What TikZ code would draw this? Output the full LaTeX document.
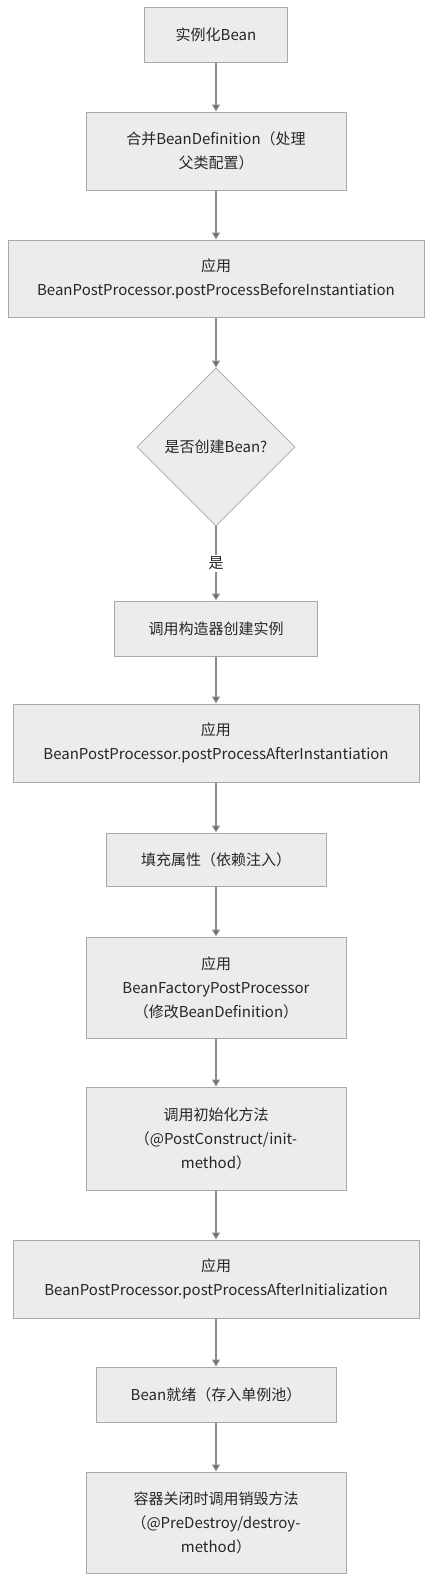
\documentclass[tikz,border=0pt]{standalone}
\usepackage{fontspec}
\usepackage{tikz}
\usetikzlibrary{shapes.geometric}
\usetikzlibrary{arrows.meta}
\usepackage{xcolor}

\newfontfamily\cjk{Noto Sans CJK SC}

\definecolor{boxfill}{HTML}{ECECEC}
\definecolor{boxline}{HTML}{A8A8A8}
\definecolor{linkline}{HTML}{8C8C8C}
\definecolor{tipgray}{HTML}{666666}

\tikzset{
  box/.style={draw=boxline, fill=boxfill, line width=1pt, align=center, inner sep=0pt,
    font=\cjk\fontsize{15}{24}\selectfont, text=black!85},
  decision/.style={diamond, draw=boxline, fill=boxfill, line width=0.8pt, inner sep=0pt, aspect=1,
    minimum width=158pt, minimum height=158pt, font=\cjk\fontsize{15}{24}\selectfont, text=black!85},
  link/.style={draw=linkline, line width=1.2pt, -{Triangle[length=7pt,width=8pt,fill=tipgray]}}
}

\begin{document}
\begin{tikzpicture}[x=1pt,y=-1pt]

\useasboundingbox (0,0) rectangle (432,1582);

\node[box, minimum width=143pt, minimum height=55pt] (inst) at (216,34.5) {实例化Bean};

\node[box, minimum width=260pt, minimum height=78pt] (merge) at (216,151) {合并BeanDefinition（处理\\父类配置）};

\node[box, minimum width=416pt, minimum height=77pt] (before) at (216,278.5) {应用\\BeanPostProcessor.postProcessBeforeInstantiation};

\node[decision] (decide) at (216,447) {是否创建Bean?};

\node[box, minimum width=203pt, minimum height=55pt] (ctor) at (216,628.5) {调用构造器创建实例};

\node[box, minimum width=406pt, minimum height=78pt] (after) at (216,743) {应用\\BeanPostProcessor.postProcessAfterInstantiation};

\node[box, minimum width=220pt, minimum height=53pt] (fill) at (216,859.5) {填充属性（依赖注入）};

\node[box, minimum width=260pt, minimum height=101pt] (factory) at (216,987.5) {应用\\BeanFactoryPostProcessor\\（修改BeanDefinition）};

\node[box, minimum width=260pt, minimum height=103pt] (init) at (216,1138.5) {调用初始化方法\\（@PostConstruct/init-\\method）};

\node[box, minimum width=406pt, minimum height=78pt] (afterinit) at (216,1279) {应用\\BeanPostProcessor.postProcessAfterInitialization};

\node[box, minimum width=240pt, minimum height=55pt] (ready) at (216,1394.5) {Bean就绪（存入单例池）};

\node[box, minimum width=260pt, minimum height=101pt] (destroy) at (216,1522.5) {容器关闭时调用销毁方法\\（@PreDestroy/destroy-\\method）};

% connectors
\draw[link] (inst) -- (merge);
\draw[link] (merge) -- (before);
\draw[link] (before) -- (decide);
\draw[link] (decide) -- node[fill=white, inner sep=2pt, font=\cjk\fontsize{15}{16}\selectfont, text=black!85] (yes) {是} (ctor);
\draw[link] (ctor) -- (after);
\draw[link] (after) -- (fill);
\draw[link] (fill) -- (factory);
\draw[link] (factory) -- (init);
\draw[link] (init) -- (afterinit);
\draw[link] (afterinit) -- (ready);
\draw[link] (ready) -- (destroy);

\end{tikzpicture}
\end{document}
